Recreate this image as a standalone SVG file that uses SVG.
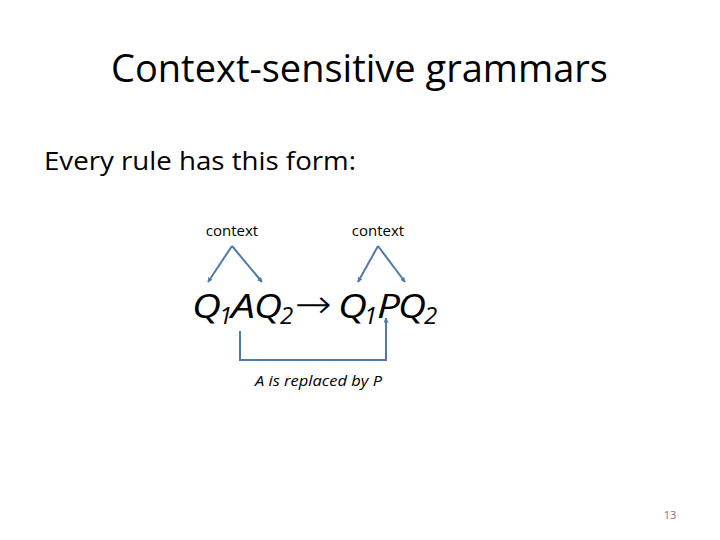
<svg xmlns="http://www.w3.org/2000/svg" width="720" height="540" viewBox="0 0 720 540">
<defs>
<marker id="ah" viewBox="0 0 10 10" refX="9" refY="5" markerWidth="5" markerHeight="5" orient="auto-start-reverse" markerUnits="userSpaceOnUse">
<path d="M0,0 L10,5 L0,10 z" fill="#4F7AA8"/>
</marker>
<style>
text{font-family:"Open Sans","Liberation Sans",sans-serif;fill:#000}
.f{font-style:italic;font-size:33px}
.s{font-size:24px}
.c{stroke:#4F7AA8;stroke-width:2;fill:none}
</style>
</defs>
<rect width="720" height="540" fill="#fff"/>
<g id="title"><text x="111" y="82" font-size="39" textLength="497" lengthAdjust="spacingAndGlyphs">Context-sensitive grammars</text></g>
<g id="body"><text x="44" y="170" font-size="25" textLength="312" lengthAdjust="spacingAndGlyphs">Every rule has this form:</text></g>
<g id="context1"><text x="232" y="236" font-size="15" text-anchor="middle">context</text></g>
<g id="context2"><text x="378" y="236" font-size="15" text-anchor="middle">context</text></g>
<g id="formula">
<text class="f" x="192" y="318" textLength="29" lengthAdjust="spacingAndGlyphs">Q</text>
<text class="f s" x="219" y="324">1</text>
<text class="f" x="231" y="318" textLength="24" lengthAdjust="spacingAndGlyphs">A</text>
<text class="f" x="254" y="318" textLength="28" lengthAdjust="spacingAndGlyphs">Q</text>
<text class="f s" x="280" y="324">2</text>
<text x="295" y="318" font-size="40" font-weight="200" style="font-family:'DejaVu Sans',sans-serif" textLength="37" lengthAdjust="spacingAndGlyphs">→</text>
<text class="f" x="338" y="318" textLength="29" lengthAdjust="spacingAndGlyphs">Q</text>
<text class="f s" x="364" y="324">1</text>
<text class="f" x="377" y="318" textLength="23" lengthAdjust="spacingAndGlyphs">P</text>
<text class="f" x="398" y="318" textLength="28" lengthAdjust="spacingAndGlyphs">Q</text>
<text class="f s" x="424" y="324">2</text>
</g>
<g id="caption"><text x="255" y="386" font-size="15" font-style="italic" textLength="127" lengthAdjust="spacingAndGlyphs">A is replaced by P</text></g>
<g id="page"><text x="670" y="519" font-size="11" style="fill:#777" text-anchor="middle">13</text></g>
<g id="connectors">
<path class="c" d="M232,246 L208,282" marker-end="url(#ah)"/>
<path class="c" d="M232,246 L262,282" marker-end="url(#ah)"/>
<path class="c" d="M378,246 L358,282" marker-end="url(#ah)"/>
<path class="c" d="M378,246 L405,282" marker-end="url(#ah)"/>
<path class="c" d="M240,331 L240,360 L386,360 L386,318" marker-end="url(#ah)"/>
</g>
</svg>
